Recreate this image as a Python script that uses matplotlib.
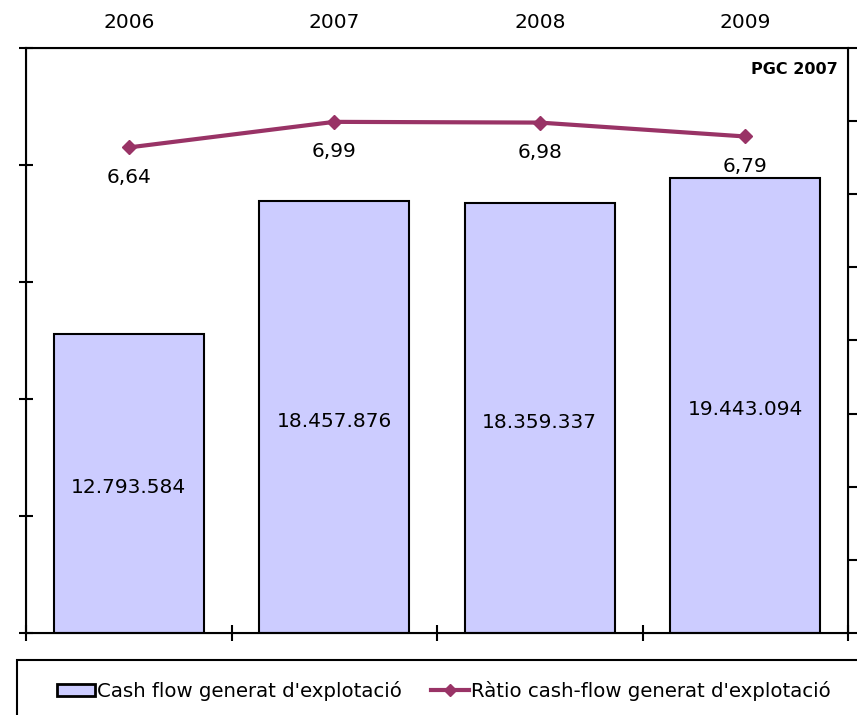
import matplotlib
matplotlib.use("Agg")
import matplotlib.pyplot as plt
from matplotlib.patches import Rectangle, Patch
from matplotlib.lines import Line2D
import numpy as np

years = ["2006", "2007", "2008", "2009"]
cash_flow = [12793584, 18457876, 18359337, 19443094]
cash_flow_labels = ["12.793.584", "18.457.876", "18.359.337", "19.443.094"]
ratio = [6.64, 6.99, 6.98, 6.79]
ratio_labels = ["6,64", "6,99", "6,98", "6,79"]

bar_color = "#CCCCFF"
line_color = "#993366"

fig = plt.figure(figsize=(8.57, 7.15), dpi=100)
W, H = 857, 715
ax = fig.add_axes([26 / W, (H - 633) / H, (848 - 26) / W, (633 - 48) / H])
x = np.arange(len(years))

ax.bar(x, cash_flow, width=0.73, color=bar_color, edgecolor="black", linewidth=1.5, zorder=2)
ax.set_xlim(-0.5, len(years) - 0.5)
ax.set_ylim(0, 25000000)
ax.set_yticks(np.arange(0, 25000001, 5000000))
ax.set_yticklabels([])
ax.tick_params(axis="y", direction="inout", length=10, width=1.5)

for xi, v, lab in zip(x, cash_flow, cash_flow_labels):
    ax.annotate(lab, (xi, v / 2), xytext=(0, -4), textcoords="offset pixels",
                ha="center", va="center", fontsize=14.5, color="black", zorder=5)

# category labels on top, boundary ticks at bottom
ax.set_xticks(x)
ax.set_xticklabels(years, fontsize=14.5)
ax.tick_params(axis="x", which="major", bottom=False, top=False, labelbottom=False, labeltop=True, pad=8)
ax.set_xticks(np.arange(-0.5, len(years) - 0.4, 1.0), minor=True)
ax.tick_params(axis="x", which="minor", bottom=True, direction="inout", length=12, width=1.5)

for s in ax.spines.values():
    s.set_linewidth(1.5)

ax2 = ax.twinx()
ax2.plot(x, ratio, color=line_color, linewidth=3, marker="D", markersize=7, zorder=4)
ax2.set_ylim(0, 8)
ax2.set_yticks(np.arange(0, 9, 1))
ax2.set_yticklabels([])
ax2.tick_params(axis="y", direction="out", length=7, width=1.5)
for xi, v, lab in zip(x, ratio, ratio_labels):
    ax2.annotate(lab, (xi, v), xytext=(0, -30), textcoords="offset pixels",
                 ha="center", va="center", fontsize=14.5, color="black")

ax.annotate("PGC 2007", (1, 1), xycoords="axes fraction", xytext=(-10, -22),
            textcoords="offset pixels", ha="right", va="center",
            fontsize=11.5, fontweight="bold")

# legend box
fig.patches.append(Rectangle((17 / W, -0.05), 1.0, (H - 660) / H + 0.05, transform=fig.transFigure,
                             facecolor="white", edgecolor="black", linewidth=1.5))
handles = [Patch(facecolor=bar_color, edgecolor="black", linewidth=2),
           Line2D([], [], color=line_color, linewidth=3, marker="D", markersize=6)]
fig.legend(handles, ["Cash flow generat d'explotació", "Ràtio cash-flow generat d'explotació"],
           loc="center left", bbox_to_anchor=(39 / W, 24 / H), ncol=2, frameon=False,
           prop={"family": ["DejaVu Sans"], "size": 14.2},
           handlelength=1.93, handleheight=0.6, handletextpad=0.1, columnspacing=1.5)

fig.savefig("out.png", dpi=100)
